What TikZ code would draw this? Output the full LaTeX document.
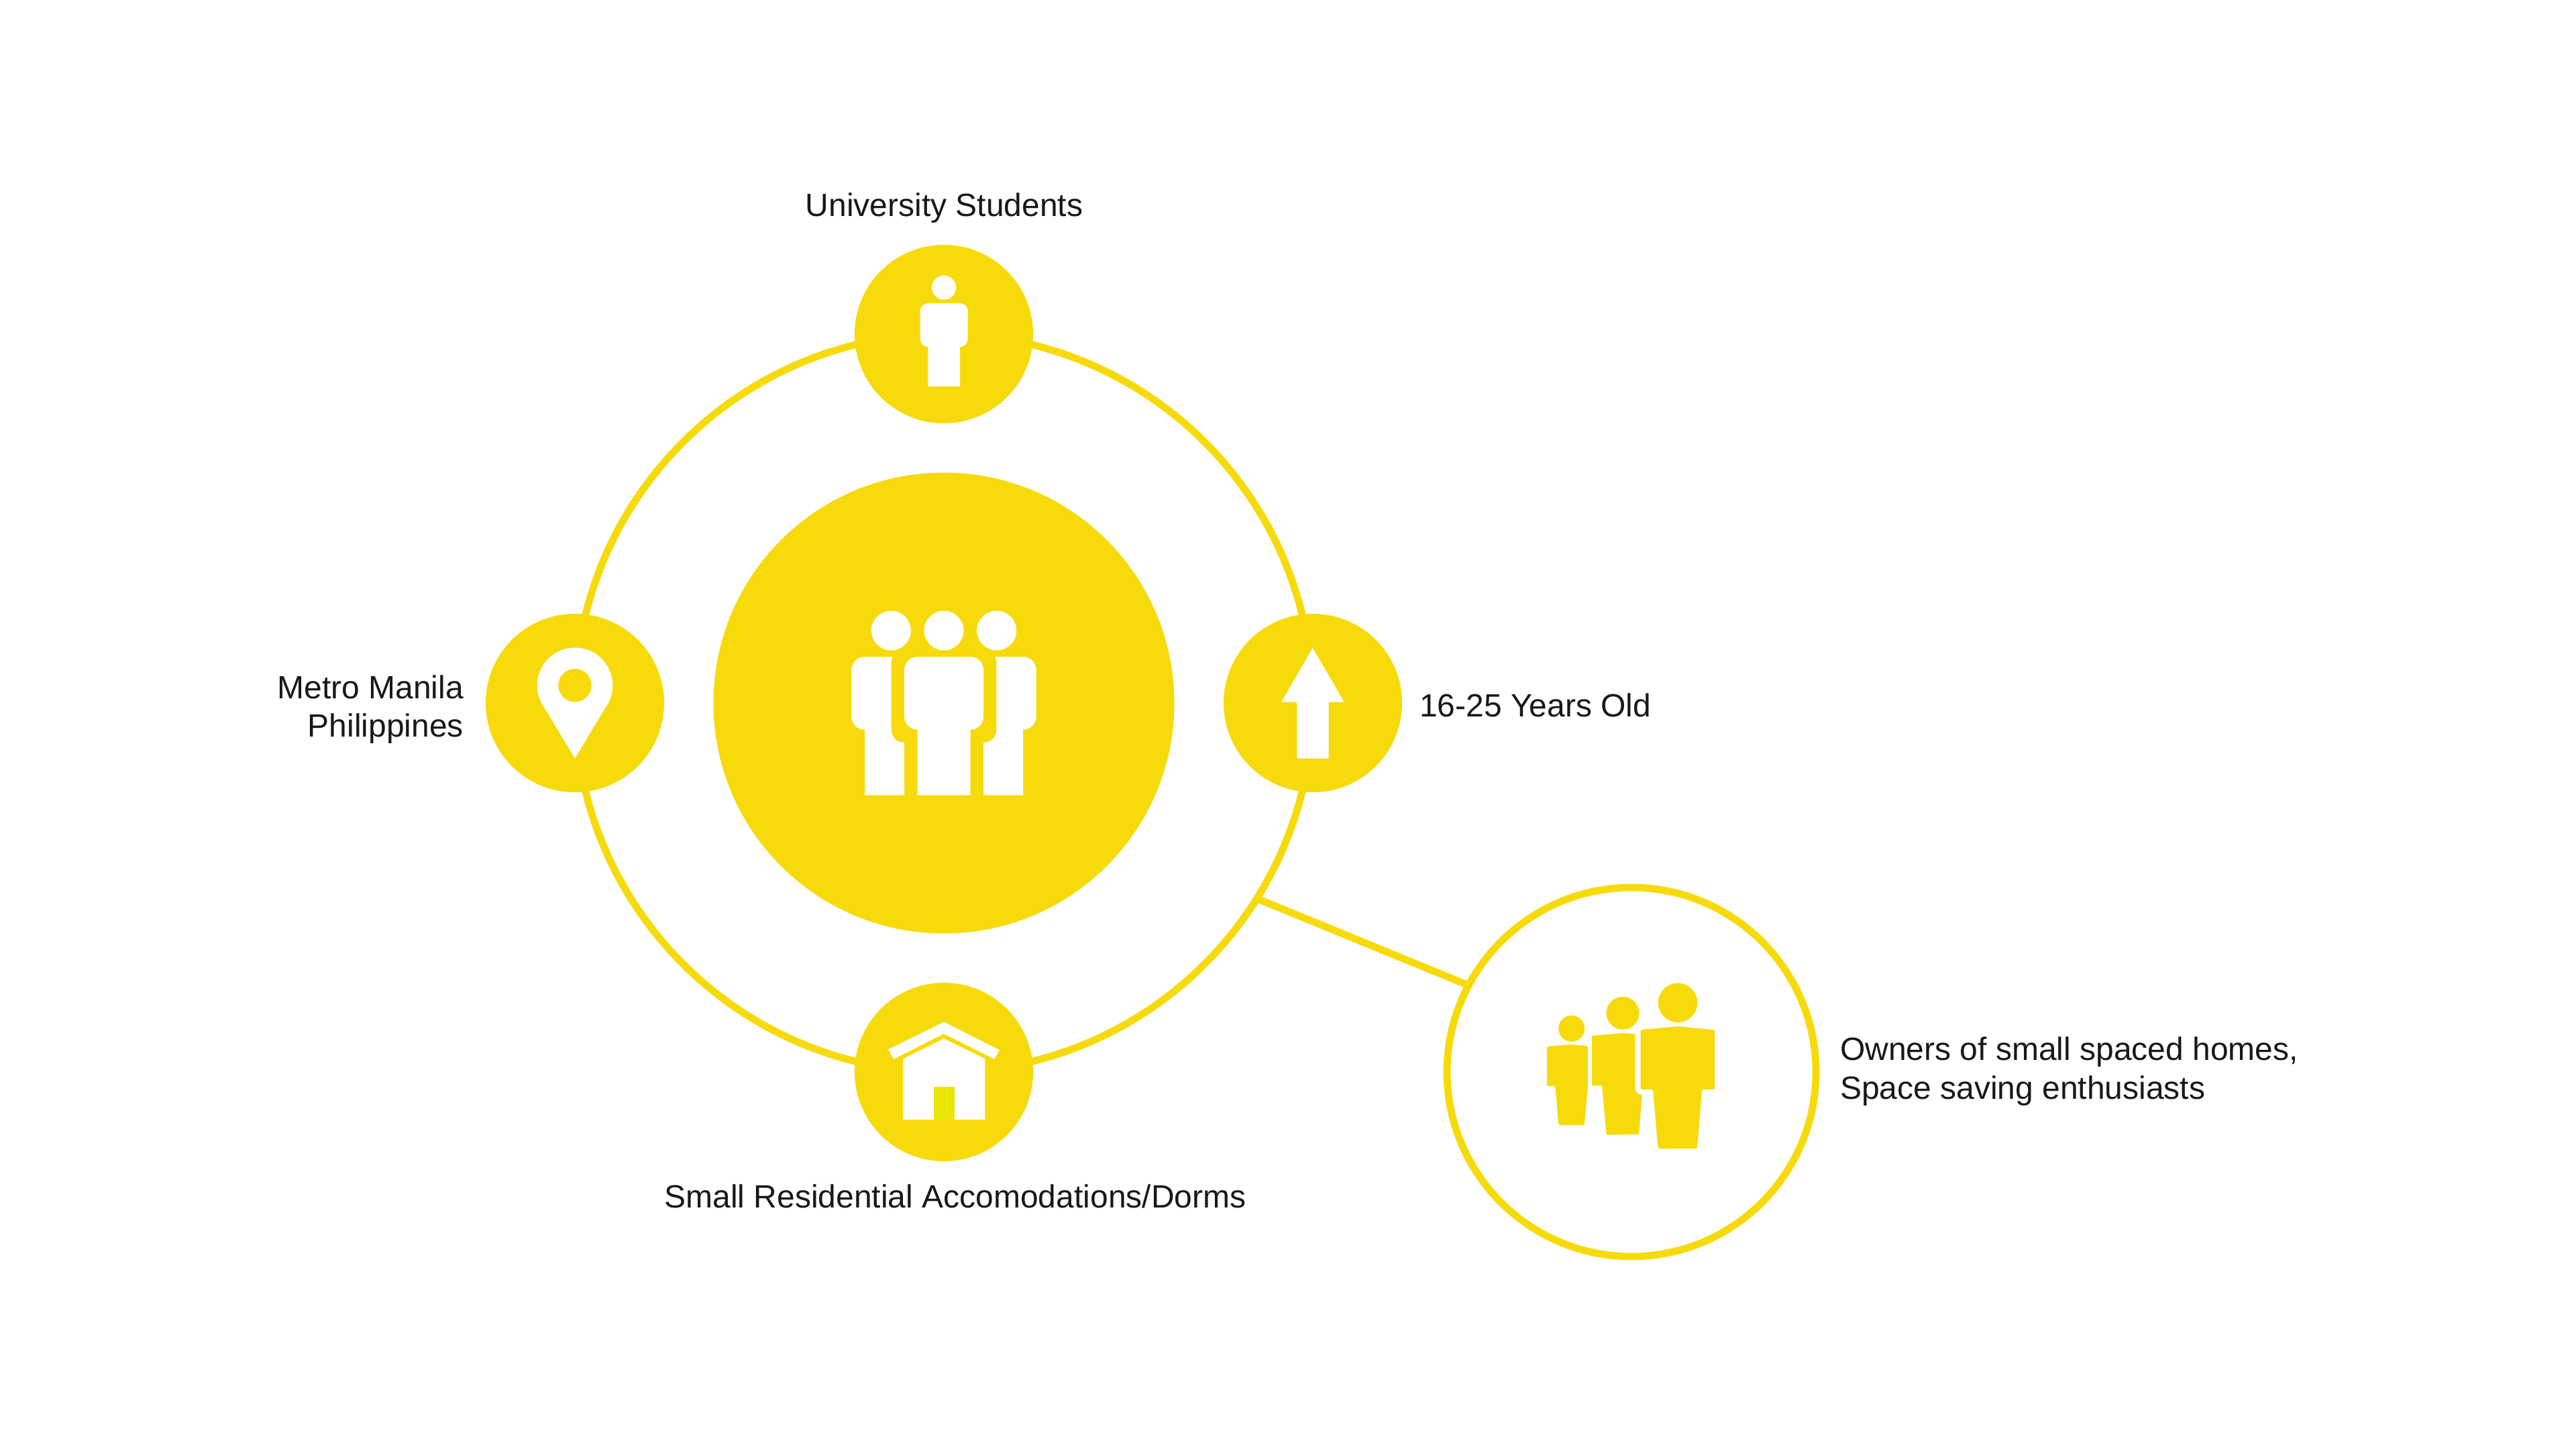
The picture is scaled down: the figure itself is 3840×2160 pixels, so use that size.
\documentclass[tikz,border=0pt]{standalone}
\usepackage{fontspec}
\setmainfont{Liberation Sans}
\definecolor{mainyellow}{HTML}{F7DA0A}
\definecolor{dooryellow}{HTML}{E9E60A}
\definecolor{labelink}{HTML}{1A1718}
\tikzset{
  lbl/.style={font=\fontsize{12pt}{14.3pt}\selectfont,text=labelink,inner sep=0pt,outer sep=0pt},
  hub/.style={circle,fill=mainyellow,inner sep=0pt,outer sep=0pt,minimum size=66.5pt},
  core/.style={circle,fill=mainyellow,inner sep=0pt,outer sep=0pt,minimum size=171.75pt},
  ringline/.style={draw=mainyellow,line width=2.7pt},
}
\begin{document}
\begin{tikzpicture}[x=0.25pt,y=-0.25pt]
\useasboundingbox (0,0) rectangle (3840,2160);
\fill[white] (0,0) rectangle (3840,2160);
% ring and connector
\node[circle,ringline,inner sep=0pt,outer sep=0pt,minimum size=275pt] (ring) at (1407,1048) {};
\node[circle,ringline,fill=white,inner sep=0pt,outer sep=0pt,minimum size=137.5pt] (owners) at (2432,1598) {};
\draw[ringline] (ring.-32.6) -- (owners.152.8);
% hubs
\node[core] (centre) at (1407,1048) {};
\node[hub] (top) at (1407,498) {};
\node[hub] (left) at (857,1048) {};
\node[hub] (right) at (1957,1048) {};
\node[hub] (bottom) at (1407,1598) {};
% centre people
\fill[white] (1328.3,940) circle[radius=29.5pt/4];
\fill[white] (1407,940) circle[radius=29.5pt/4];
\fill[white] (1485.7,940) circle[radius=29.5pt/4];
\fill[white] (1367.7,979) -- (1446.7,979) .. controls (1457.7,979) and (1466,988) .. (1466,999) -- (1466,1068) .. controls (1466,1079) and (1457.7,1087.7) .. (1446.7,1087.7) -- (1446.7,1185.3) -- (1367.7,1185.3) -- (1367.7,1087.7) .. controls (1356.7,1087.7) and (1348,1079) .. (1348,1068) -- (1348,999) .. controls (1348,988) and (1356.7,979) .. (1367.7,979) -- cycle;
\fill[white] (1289,979) -- (1330.3,979) -- (1328.7,985) -- (1328.7,1087) .. controls (1328.7,1099) and (1336,1106.7) .. (1348,1106.7) -- (1348,1185.3) -- (1289,1185.3) -- (1289,1087.7) .. controls (1278,1087.7) and (1269.3,1079) .. (1269.3,1068) -- (1269.3,999) .. controls (1269.3,988) and (1278,979) .. (1289,979) -- cycle;
\fill[white] (1525,979) -- (1483.7,979) -- (1485.3,985) -- (1485.3,1087) .. controls (1485.3,1099) and (1478,1106.7) .. (1466,1106.7) -- (1466,1185.3) -- (1525,1185.3) -- (1525,1087.7) .. controls (1536,1087.7) and (1544.7,1079) .. (1544.7,1068) -- (1544.7,999) .. controls (1544.7,988) and (1536,979) .. (1525,979) -- cycle;
% student
\fill[white] (1407,428.7) circle[radius=18pt/4];
\fill[white] (1383.3,452) -- (1431,452) .. controls (1437.5,452) and (1442.7,457.2) .. (1442.7,463.7) -- (1442.7,505.3) .. controls (1442.7,511.8) and (1437.5,517) .. (1431,517) -- (1431,576) -- (1383.3,576) -- (1383.3,517) .. controls (1376.8,517) and (1371.7,511.8) .. (1371.7,505.3) -- (1371.7,463.7) .. controls (1371.7,457.2) and (1376.8,452) .. (1383.3,452) -- cycle;
% pin
\fill[white] (857,1021.7) circle[radius=56.3pt/4];
\fill[white] (806.7,1046.7) -- (907.3,1046.7) -- (857,1130.7) -- cycle;
\fill[mainyellow] (857,1021.7) circle[radius=24.7pt/4];
% arrow
\fill[white] (1956.7,965.7) -- (2003.7,1046.7) -- (1980.7,1046.7) -- (1980.7,1130.7) -- (1933.3,1130.7) -- (1933.3,1046.7) -- (1910,1046.7) -- cycle;
% house
\fill[white] (1407,1523.3) -- (1489.7,1565.3) -- (1482.3,1578.7) -- (1407,1541) -- (1332,1578.7) -- (1324.3,1564.3) -- cycle;
\fill[white] (1407,1548.3) -- (1468.3,1578.3) -- (1468.3,1669) -- (1346,1669) -- (1346,1578.3) -- cycle;
\fill[dooryellow] (1391.7,1620) rectangle (1422.7,1669);
% owners people
\fill[mainyellow] (2342.7,1533.3) circle[radius=19.5pt/4];
\fill[mainyellow,rounded corners=0.5pt] (2306,1560) -- (2342.7,1557) -- (2367,1559) -- (2367,1619) -- (2361.7,1677) -- (2323.3,1677) -- (2318.3,1619) -- (2306,1619) -- cycle;
\fill[mainyellow] (2419,1510.3) circle[radius=24.5pt/4];
\fill[mainyellow] (2373,1544) -- (2418.3,1540) -- (2437.3,1541.3) -- (2437.3,1620) .. controls (2437.3,1627) and (2441,1632.3) .. (2447.7,1632.3) -- (2443,1690.7) -- (2394.7,1691.7) -- (2388,1618.3) -- (2373,1618.3) -- cycle;
\fill[mainyellow] (2501,1494.7) circle[radius=29.3pt/4];
\fill[mainyellow,rounded corners=0.5pt] (2445.7,1535) -- (2501,1530) -- (2556,1535.3) -- (2556,1624) -- (2537,1624) -- (2530,1712) -- (2471.7,1712.3) -- (2464,1624) -- (2445.7,1624) -- cycle;
% labels
\node[lbl,anchor=center] (t1) at (1407.5,310.5) {University Students};
\node[lbl,anchor=east,align=right] (t2) at (691,1057.5) {Metro Manila\\Philippines};
\node[lbl,anchor=west] (t3) at (2116,1051) {16-25 Years Old};
\node[lbl,anchor=center] (t4) at (1424,1783) {Small Residential Accomodations/Dorms};
\node[lbl,anchor=west,align=left] (t5) at (2743,1597) {Owners of small spaced homes,\\Space saving enthusiasts};
\end{tikzpicture}
\end{document}
